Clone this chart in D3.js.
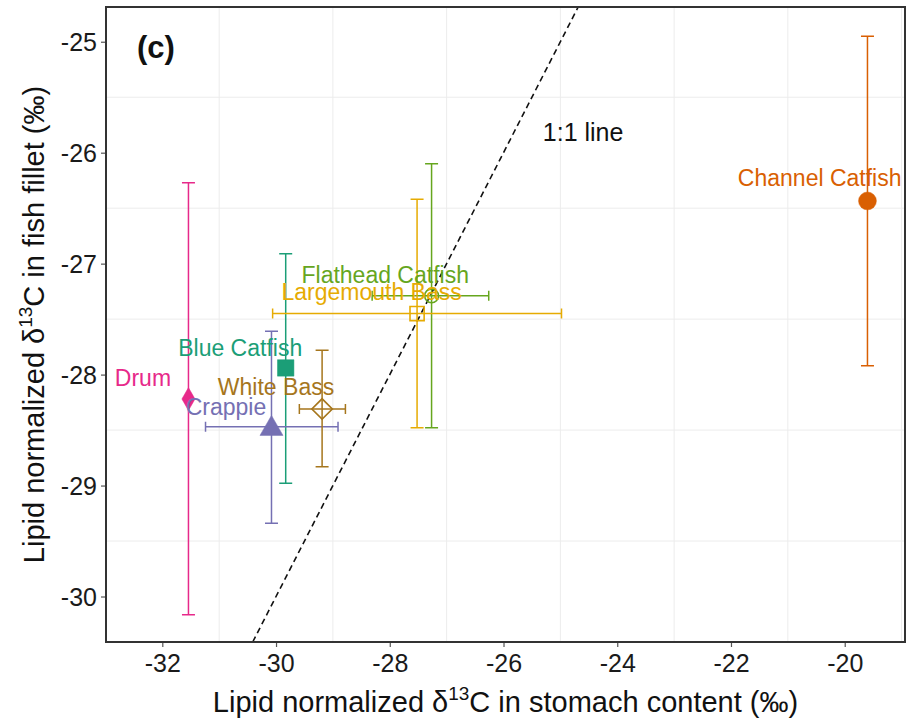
<!DOCTYPE html>
<html>
<head>
<meta charset="utf-8">
<script src="https://cdn.jsdelivr.net/npm/d3@7"></script>
<style>
  body { margin: 0; background: #fff; }
  text { font-family: "Liberation Sans", Arial, Helvetica, sans-serif; }
</style>
</head>
<body>
<svg id="canvas"></svg>
<script>
// species, in the order ggplot would draw them
let species = ["Blue Catfish", "Channel Catfish", "Crappie", "Drum", "Flathead Catfish", "Largemouth Bass", "White Bass"]

// d13C in stomach content (x) with spread, null where no horizontal bar shows
let stomachMean = [-29.83, -19.60, -30.08, -31.54, -27.265, -27.52, -29.19]
let stomachLow  = [null, null, -31.24, null, -28.31, -30.06, -29.59]
let stomachHigh = [null, null, -28.91, null, -26.26, -24.98, -28.78]

// d13C in fish fillet (y) with spread
let filletMean = [-27.94, -26.435, -28.47, -28.22, -27.29, -27.45, -28.31]
let filletLow  = [-28.98, -27.92, -29.34, -30.165, -28.48, -28.48, -28.83]
let filletHigh = [-26.91, -24.95, -27.61, -26.27, -26.10, -26.42, -27.78]

// where each name label sits, in data units
let labelX = [-30.63, -20.44, -30.88, -32.34, -28.08, -28.32, -30.0]
let labelY = [-27.76, -26.23, -28.29, -28.03, -27.10, -27.255, -28.11]

let xTicks = [-32, -30, -28, -26, -24, -22, -20]
let yTicks = [-30, -29, -28, -27, -26, -25]
let xMinor = [-31, -29, -27, -25, -23, -21, -19]
let yMinor = [-30.5, -29.5, -28.5, -27.5, -26.5, -25.5]

let colors = {
  "Blue Catfish": "#1B9E77", "Channel Catfish": "#D95F02", "Crappie": "#7570B3",
  "Drum": "#E7298A", "Flathead Catfish": "#66A61E", "Largemouth Bass": "#E6AB02",
  "White Bass": "#A6761D"
}

width = 909
height = 727
let pL = 106, pR = 905, pT = 7, pB = 642

let svg = d3.select('#canvas').attr('width', width).attr('height', height)

let x = d3.scaleLinear().domain([-32.99, -18.94]).range([pL, pR])
let y = d3.scaleLinear().domain([-30.41, -24.687]).range([pB, pT])

// minor grid only
svg.append('g').selectAll('line').data(xMinor.filter(v => x(v) > pL && x(v) < pR))
  .enter().append('line')
  .attr('x1', d => x(d)).attr('x2', d => x(d))
  .attr('y1', pT).attr('y2', pB)
  .attr('stroke', '#ececec').attr('stroke-width', 1)
svg.append('g').selectAll('line').data(yMinor.filter(v => y(v) > pT && y(v) < pB))
  .enter().append('line')
  .attr('y1', d => y(d)).attr('y2', d => y(d))
  .attr('x1', pL).attr('x2', pR)
  .attr('stroke', '#ececec').attr('stroke-width', 1)

// axes
let xAxis = svg.append('g').attr('transform', 'translate(0,' + pB + ')')
  .call(d3.axisBottom(x).tickValues(xTicks).tickSize(5).tickPadding(4).tickFormat(d => d))
let yAxis = svg.append('g').attr('transform', 'translate(' + pL + ',0)')
  .call(d3.axisLeft(y).tickValues(yTicks).tickSize(5).tickPadding(4).tickFormat(d => d))
svg.selectAll('.domain').remove()
svg.selectAll('.tick line').attr('stroke', '#555').attr('stroke-width', 1.2)
svg.selectAll('.tick text').attr('font-size', 25).attr('fill', '#1a1a1a')
  .attr('font-family', '"Liberation Sans", Arial, sans-serif')
xAxis.selectAll('.tick text').attr('dy', '0.85em')
yAxis.selectAll('.tick text').attr('dy', '0.36em')

// 1:1 line
let lo = Math.max(x.domain()[0], y.domain()[0])
let hi = Math.min(x.domain()[1], y.domain()[1])
svg.append('line')
  .attr('x1', x(lo)).attr('y1', y(lo)).attr('x2', x(hi)).attr('y2', y(hi))
  .attr('stroke', '#111').attr('stroke-width', 1.6).attr('stroke-dasharray', '6,4')

let rows = species.map((s, i) => ({
  name: s, color: colors[s],
  xm: stomachMean[i], xl: stomachLow[i], xh: stomachHigh[i],
  ym: filletMean[i], yl: filletLow[i], yh: filletHigh[i],
  lx: labelX[i], ly: labelY[i]
}))

let capV = 6.5, capH = 5
let bars = svg.append('g').selectAll('g').data(rows).enter().append('g')
  .attr('stroke', d => d.color).attr('stroke-width', 1.5).attr('fill', 'none')

bars.append('path').attr('d', d =>
  'M' + x(d.xm) + ',' + y(d.yl) + 'V' + y(d.yh) +
  'M' + (x(d.xm) - capV) + ',' + y(d.yl) + 'h' + 2 * capV +
  'M' + (x(d.xm) - capV) + ',' + y(d.yh) + 'h' + 2 * capV)

bars.filter(d => d.xl !== null).append('path').attr('d', d =>
  'M' + x(d.xl) + ',' + y(d.ym) + 'H' + x(d.xh) +
  'M' + x(d.xl) + ',' + (y(d.ym) - capH) + 'v' + 2 * capH +
  'M' + x(d.xh) + ',' + (y(d.ym) - capH) + 'v' + 2 * capH)

// point shapes, ggplot pch 15,16,17,18,1,0,5
let shapes = {
  "Blue Catfish": { t: d3.symbolSquare, size: 270, fill: true },
  "Channel Catfish": { t: d3.symbolCircle, size: 250, fill: true },
  "Crappie": { t: d3.symbolTriangle, size: 230, fill: true },
  "Drum": { t: d3.symbolDiamond, size: 150, fill: true },
  "Flathead Catfish": { t: d3.symbolCircle, size: 150, fill: false },
  "Largemouth Bass": { t: d3.symbolSquare, size: 200, fill: false },
  "White Bass": { t: d3.symbolSquare, size: 210, fill: false, rot45: true }
}

svg.append('g').selectAll('path').data(rows).enter().append('path')
  .attr('d', d => d3.symbol().type(shapes[d.name].t).size(shapes[d.name].size)())
  .attr('transform', d => {
    let s = shapes[d.name]
    let t = 'translate(' + x(d.xm) + ',' + y(d.ym) + ')'
    if (s.rot45) t += ' rotate(45)'
    if (s.t === d3.symbolTriangle) t += ' translate(0,2)'
    return t
  })
  .attr('fill', d => shapes[d.name].fill ? d.color : 'none')
  .attr('stroke', d => d.color)
  .attr('stroke-width', d => shapes[d.name].fill ? 0.5 : 1.6)

// labels
svg.append('g').selectAll('text').data(rows).enter().append('text')
  .attr('x', d => x(d.lx)).attr('y', d => y(d.ly))
  .attr('dy', '0.35em')
  .attr('text-anchor', 'middle')
  .attr('font-size', 23)
  .attr('fill', d => d.color)
  .text(d => d.name)

// annotations
svg.append('text').attr('x', 137).attr('y', 58)
  .attr('font-size', 31).attr('font-weight', 'bold').attr('fill', '#111')
  .text('(c)')
svg.append('text').attr('x', x(-24.6)).attr('y', y(-25.82)).attr('dy', '0.35em')
  .attr('text-anchor', 'middle').attr('font-size', 25).attr('fill', '#111')
  .text('1:1 line')

// panel border
svg.append('rect').attr('x', pL).attr('y', pT)
  .attr('width', pR - pL).attr('height', pB - pT)
  .attr('fill', 'none').attr('stroke', '#333').attr('stroke-width', 2)

// axis titles with superscript 13
let xt = svg.append('text').attr('x', (pL + pR) / 2).attr('y', 712)
  .attr('text-anchor', 'middle').attr('font-size', 29).attr('fill', '#111')
xt.append('tspan').text('Lipid normalized \u03B4')
xt.append('tspan').attr('font-size', 19).attr('dy', -12).text('13')
xt.append('tspan').attr('dy', 12).text('C in stomach content (\u2030)')

let yt = svg.append('text')
  .attr('transform', 'translate(44,' + (pT + pB) / 2 + ') rotate(-90)')
  .attr('text-anchor', 'middle').attr('font-size', 29).attr('fill', '#111')
yt.append('tspan').text('Lipid normalized \u03B4')
yt.append('tspan').attr('font-size', 19).attr('dy', -12).text('13')
yt.append('tspan').attr('dy', 12).text('C in fish fillet (\u2030)')
</script>
</body>
</html>
